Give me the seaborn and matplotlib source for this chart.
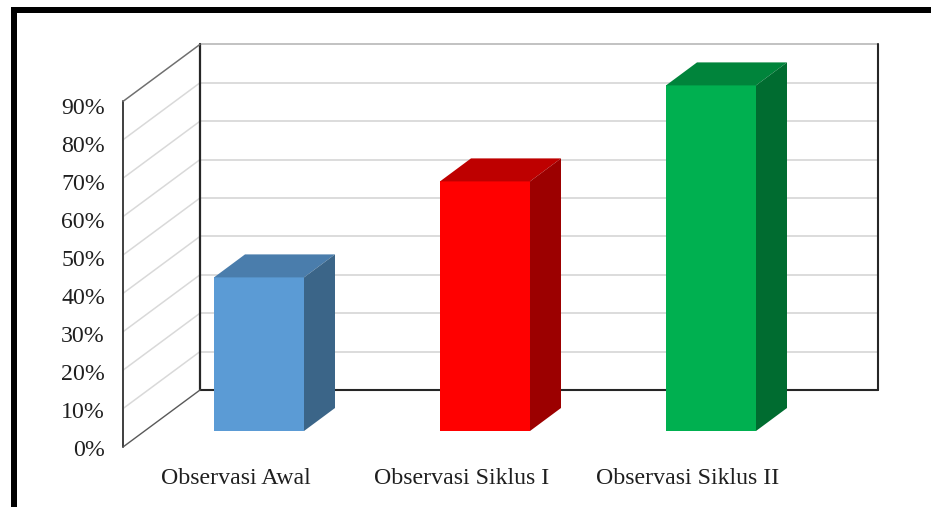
import matplotlib
matplotlib.use("Agg")
import matplotlib.pyplot as plt
import matplotlib.transforms as mtrans
from matplotlib.patches import Rectangle
import pandas as pd
import seaborn as sns

# Chart data
categories = ["Observasi Awal", "Observasi Siklus I", "Observasi Siklus II"]
values = [40, 65, 90]
y_ticks = [0, 10, 20, 30, 40, 50, 60, 70, 80, 90]
y_tick_labels = [f"{v}%" for v in y_ticks]

# Shading of each column: front, top and side faces
front_colors = ["#5B9BD5", "#FF0000", "#00B050"]
top_colors = ["#4A7DAC", "#BE0000", "#00843B"]
side_colors = ["#3B6588", "#9C0000", "#006C30"]

WIDTH, HEIGHT = 931, 507
DPI = 100

# Pixel layout of the pseudo-3D box
PLOT_LEFT, PLOT_RIGHT = 123, 878
BAR_BASE_Y = 431
PX_PER_PCT = 3.84
PX_PER_CAT = 226
FIRST_BAR_X = 259
BAR_PX = 90
BAR_DX, BAR_DY = 31, 23
WALL_DX, WALL_DY = 77, 57
WALL_FRONT_BASE_Y = 447
TOP_VALUE = 90
LABEL_SIZE = 17.2

sns.set_theme(style="white")
plt.rcParams["font.family"] = ["Liberation Serif", "DejaVu Serif"]

fig = plt.figure(figsize=(WIDTH / DPI, HEIGHT / DPI), dpi=DPI, facecolor="white")
ax = fig.add_axes([
    PLOT_LEFT / WIDTH,
    (HEIGHT - BAR_BASE_Y) / HEIGHT,
    (PLOT_RIGHT - PLOT_LEFT) / WIDTH,
    TOP_VALUE * PX_PER_PCT / HEIGHT,
])
ax.patch.set_alpha(0)

df = pd.DataFrame({"kategori": categories, "nilai": values})
sns.barplot(
    data=df, x="kategori", y="nilai", hue="kategori",
    palette=front_colors, width=BAR_PX / PX_PER_CAT, saturation=1,
    legend=False, ax=ax, zorder=5, linewidth=0,
)

xmin = (PLOT_LEFT - FIRST_BAR_X) / PX_PER_CAT
xmax = (PLOT_RIGHT - FIRST_BAR_X) / PX_PER_CAT
ax.set_xlim(xmin, xmax)
ax.set_ylim(0, TOP_VALUE)
ax.set_xlabel("")
ax.set_ylabel("")

# Conversions from pixel offsets to data units
bar_dx = BAR_DX / PX_PER_CAT
bar_dy = BAR_DY / PX_PER_PCT
half = BAR_PX / PX_PER_CAT / 2
wall_dx = WALL_DX / PX_PER_CAT
wall_front = -(WALL_FRONT_BASE_Y - BAR_BASE_Y) / PX_PER_PCT
wall_back = wall_front + WALL_DY / PX_PER_PCT
back_x = xmin + wall_dx

# Top and side faces, extruded from each column's value
for i, v in enumerate(values):
    left, right = i - half, i + half
    ax.fill([left, right, right + bar_dx, left + bar_dx],
            [v, v, v + bar_dy, v + bar_dy],
            color=top_colors[i], lw=0, zorder=6, clip_on=False)
    ax.fill([right, right + bar_dx, right + bar_dx, right],
            [0, bar_dy, v + bar_dy, v],
            color=side_colors[i], lw=0, zorder=6, clip_on=False)

# Gridlines along the side wall and the back wall
GRID = "#D9D9D9"
DARK = "#3F3F3F"
for v in y_ticks[1:]:
    ax.plot([xmin, back_x], [v + wall_front, v + wall_back],
            color=GRID, lw=1.1, zorder=1, clip_on=False)
    ax.plot([back_x, xmax], [v + wall_back, v + wall_back],
            color=GRID if v < TOP_VALUE else "#BDBDBD", lw=1.3, zorder=1, clip_on=False)

# Box edges
ax.plot([xmin, xmin], [wall_front, TOP_VALUE + wall_front],
        color=DARK, lw=1.4, zorder=2, clip_on=False)
ax.plot([back_x, back_x], [wall_back, TOP_VALUE + wall_back],
        color="#262626", lw=1.6, zorder=2, clip_on=False)
ax.plot([xmax, xmax], [wall_back, TOP_VALUE + wall_back],
        color="#262626", lw=1.5, zorder=2, clip_on=False)
ax.plot([back_x, xmax], [wall_back, wall_back],
        color="#262626", lw=1.5, zorder=2, clip_on=False)
ax.plot([xmin, back_x], [wall_front, wall_back],
        color="#595959", lw=1.0, zorder=2, clip_on=False)
ax.plot([xmin, back_x], [TOP_VALUE + wall_front, TOP_VALUE + wall_back],
        color="#6E6E6E", lw=1.0, zorder=2, clip_on=False)

sns.despine(ax=ax, left=True, bottom=True)

# Tick labels sit on the front edge of the box, off the column plane
ax.set_yticks(y_ticks, labels=y_tick_labels)
ax.tick_params(axis="y", length=0, pad=13, labelsize=LABEL_SIZE, labelcolor="#1F1F1F")
for i, lab in enumerate(ax.get_yticklabels()):
    drop = (WALL_FRONT_BASE_Y - BAR_BASE_Y + 0.5 + i * 0.4) / DPI
    lab.set_transform(lab.get_transform() + mtrans.ScaledTranslation(0, -drop, fig.dpi_scale_trans))

ax.set_xticks(range(len(categories)), labels=categories)
ax.tick_params(axis="x", length=0, pad=27, labelsize=LABEL_SIZE, labelcolor="#1F1F1F")
x_shift = mtrans.ScaledTranslation(-23 / DPI, 0, fig.dpi_scale_trans)
for lab in ax.get_xticklabels():
    lab.set_transform(lab.get_transform() + x_shift)

# Thick black border on the left and top of the figure
for x0, y0, w, h in [(11, 0, 6, HEIGHT - 7), (11, HEIGHT - 13, WIDTH - 11, 6)]:
    fig.add_artist(Rectangle((x0 / WIDTH, y0 / HEIGHT), w / WIDTH, h / HEIGHT,
                             transform=fig.transFigure, facecolor="black", edgecolor="none"))

fig.savefig("out.png", dpi=DPI)
